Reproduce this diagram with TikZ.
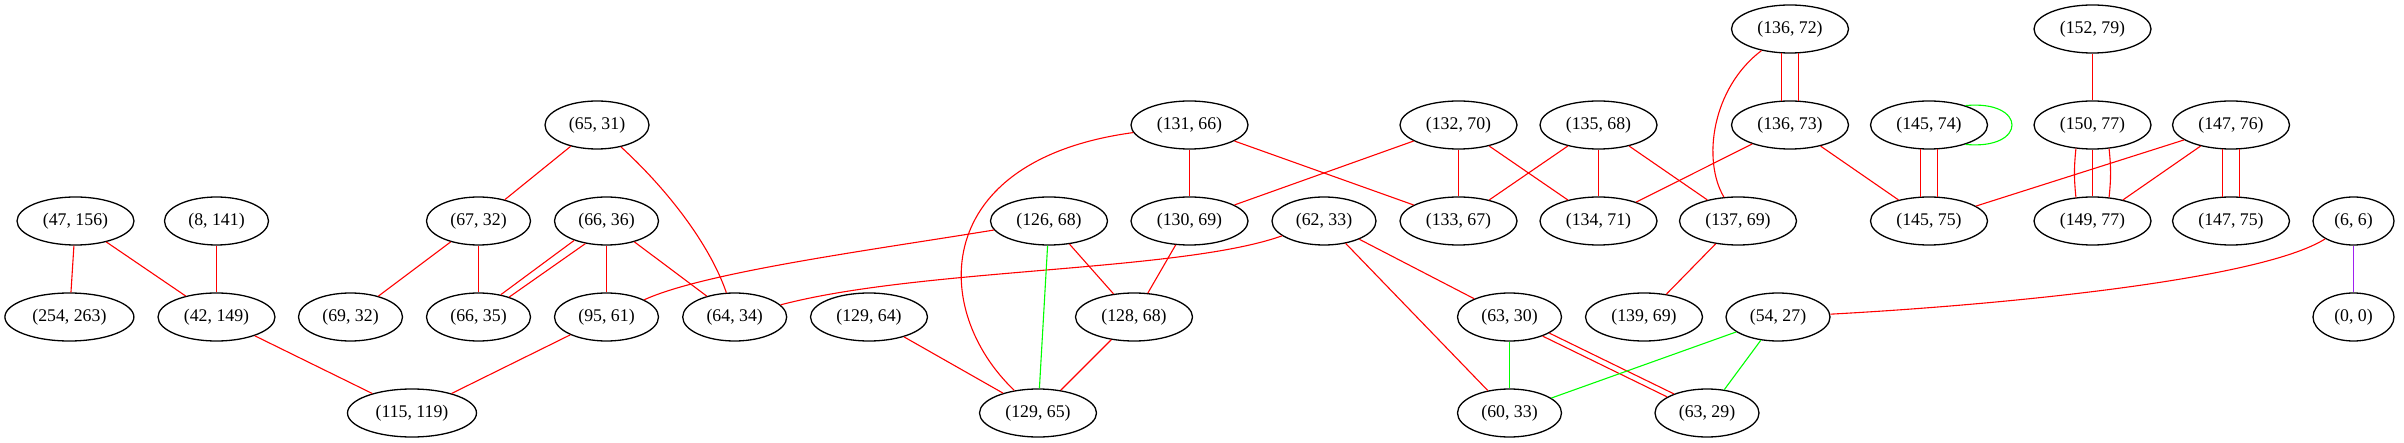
\documentclass[tikz,border=0pt]{standalone}
\usepackage{fontspec}
\setmainfont{Liberation Serif}
\usetikzlibrary{shapes.geometric}
\definecolor{gvred}{RGB}{255,0,0}
\definecolor{gvgreen}{RGB}{0,255,0}
\definecolor{gvpurple}{RGB}{160,32,240}
\begin{document}
\begin{tikzpicture}[x=0.5pt,y=-0.5pt,
  nd/.style={ellipse, draw=black, line width=0.65pt, inner sep=0pt, minimum height=24pt, font=\fontsize{8.9}{10}\selectfont},
  wA/.style={minimum width=58.5pt},
  wB/.style={minimum width=52pt},
  wC/.style={minimum width=64.5pt},
  wD/.style={minimum width=40.5pt},
  rd/.style={draw=gvred, line width=0.55pt},
  gn/.style={draw=gvgreen, line width=0.55pt},
  pu/.style={draw=gvpurple, line width=0.55pt}]
\useasboundingbox (0,0) rectangle (2404,443);
% nodes
\node[nd,wB] (a6531) at (597,125) {(65, 31)};
\node[nd,wA] (a47156) at (75.5,221) {(47, 156)};
\node[nd,wB] (a8141) at (216.5,221) {(8, 141)};
\node[nd,wB] (a6732) at (478.5,221) {(67, 32)};
\node[nd,wB] (a6636) at (606.5,221) {(66, 36)};
\node[nd,wC] (a254263) at (69.4,317) {(254, 263)};
\node[nd,wA] (a42149) at (216.5,317) {(42, 149)};
\node[nd,wB] (a6932) at (350.5,317) {(69, 32)};
\node[nd,wB] (a6635) at (478.5,317) {(66, 35)};
\node[nd,wB] (a9561) at (606.5,317) {(95, 61)};
\node[nd,wB] (a6434) at (734.7,317) {(64, 34)};
\node[nd,wC] (a115119) at (412,413) {(115, 119)};
\node[nd,wA] (a13166) at (1189.5,125) {(131, 66)};
\node[nd,wA] (a13270) at (1458.5,125) {(132, 70)};
\node[nd,wA] (a13568) at (1598.5,125) {(135, 68)};
\node[nd,wA] (a12668) at (1049,221) {(126, 68)};
\node[nd,wA] (a13069) at (1189.5,221) {(130, 69)};
\node[nd,wB] (a6233) at (1324,221) {(62, 33)};
\node[nd,wA] (a13367) at (1458.5,221) {(133, 67)};
\node[nd,wA] (a13471) at (1598.5,221) {(134, 71)};
\node[nd,wA] (a13769) at (1738,221) {(137, 69)};
\node[nd,wA] (a12964) at (869,317) {(129, 64)};
\node[nd,wA] (a12868) at (1134,317) {(128, 68)};
\node[nd,wB] (a6330) at (1509.5,317) {(63, 30)};
\node[nd,wA] (a13969) at (1644,317) {(139, 69)};
\node[nd,wB] (a5427) at (1778,317) {(54, 27)};
\node[nd,wA] (a12965) at (1038,413) {(129, 65)};
\node[nd,wB] (a6033) at (1509.5,413) {(60, 33)};
\node[nd,wB] (a6329) at (1707,413) {(63, 29)};
\node[nd,wA] (a13672) at (1790,29) {(136, 72)};
\node[nd,wA] (a15279) at (2092.5,29) {(152, 79)};
\node[nd,wA] (a13673) at (1790,125) {(136, 73)};
\node[nd,wA] (a14574) at (1929,125) {(145, 74)};
\node[nd,wA] (a15077) at (2092.5,125) {(150, 77)};
\node[nd,wA] (a14776) at (2231,125) {(147, 76)};
\node[nd,wA] (a14575) at (1929,221) {(145, 75)};
\node[nd,wA] (a14977) at (2092.5,221) {(149, 77)};
\node[nd,wA] (a14775) at (2231,221) {(147, 75)};
\node[nd,wD] (a66) at (2353.5,221) {(6, 6)};
\node[nd,wD] (a00) at (2353.5,317) {(0, 0)};
% straight red edges
\draw[rd] (a6531) -- (a6732);
\draw[rd] (a47156) -- (a254263);
\draw[rd] (a47156) -- (a42149);
\draw[rd] (a8141) -- (a42149);
\draw[rd] (a6732) -- (a6932);
\draw[rd] (a6732) -- (a6635);
\draw[rd] (a6636) -- (a9561);
\draw[rd] (a6636) -- (a6434);
\draw[rd] (a42149) -- (a115119);
\draw[rd] (a9561) -- (a115119);
\draw[rd] (a13166) -- (a13069);
\draw[rd] (a13166) -- (a13367);
\draw[rd] (a13270) -- (a13069);
\draw[rd] (a13270) -- (a13367);
\draw[rd] (a13270) -- (a13471);
\draw[rd] (a13568) -- (a13367);
\draw[rd] (a13568) -- (a13471);
\draw[rd] (a13568) -- (a13769);
\draw[rd] (a12668) -- (a12868);
\draw[rd] (a13069) -- (a12868);
\draw[rd] (a12964) -- (a12965);
\draw[rd] (a12868) -- (a12965);
\draw[rd] (a6233) -- (a6330);
\draw[rd] (a6233) -- (a6033);
\draw[rd] (a13673) -- (a13471);
\draw[rd] (a13673) -- (a14575);
\draw[rd] (a15279) -- (a15077);
\draw[rd] (a14776) -- (a14575);
\draw[rd] (a14776) -- (a14977);
\draw[rd] (a13769) -- (a13969);
% curved red edges
\draw[rd] (a6531) .. controls (668,190) and (710,245) .. (a6434);
\draw[rd] (a13166) .. controls (930,160) and (930,310) .. (a12965);
\draw[rd] (a12668) .. controls (872,250) and (705,272) .. (a9561);
\draw[rd] (a6233) .. controls (1180,272) and (920,268) .. (a6434);
\draw[rd] (a13672) .. controls (1712,88) and (1702,160) .. (a13769);
\draw[rd] (a66) .. controls (2260,280) and (2000,305) .. (a5427);
% multi edges
\draw[rd] (a6636.211.5) -- (a6635.45.8);
\draw[rd] (a6636.227) -- (a6635.33.4);
\draw[rd] (a6330.-22) -- (a6329.150);
\draw[rd] (a6330.-30) -- (a6329.158);
\draw[rd] (a13672.-71) -- (a13673.71);
\draw[rd] (a13672.-109) -- (a13673.109);
\draw[rd] (a14574.-71) -- (a14575.71);
\draw[rd] (a14574.-109) -- (a14575.109);
\draw[rd] (a14776.-71) -- (a14775.71);
\draw[rd] (a14776.-109) -- (a14775.109);
\draw[rd] (a15077) -- (a14977);
\draw[rd] (a15077.-55) to[bend left=6] (a14977.55);
\draw[rd] (a15077.-125) to[bend right=6] (a14977.125);
% green edges
\draw[gn] (a12668) -- (a12965);
\draw[gn] (a6330) -- (a6033);
\draw[gn] (a5427) -- (a6033);
\draw[gn] (a5427) -- (a6329);
\draw[gn] (a14574.28) .. controls +(62,-6) and +(62,6) .. (a14574.-28);
% purple edge
\draw[pu] (a66) -- (a00);
\end{tikzpicture}
\end{document}
